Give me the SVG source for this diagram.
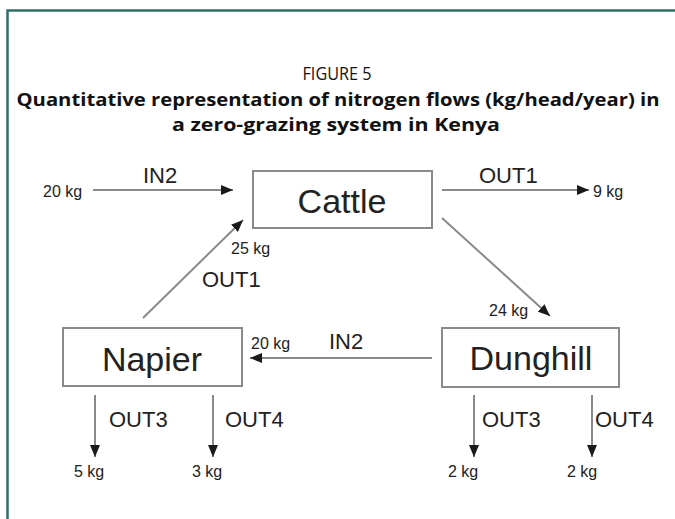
<svg xmlns="http://www.w3.org/2000/svg" width="675" height="519" viewBox="0 0 675 519">
<defs>
<style>
.frame{fill:none;stroke:#2f6e69;stroke-width:2.5}
.title{font-family:"Open Sans","Liberation Sans",sans-serif;fill:#111;text-anchor:middle}
.box{fill:#fff;stroke:#8a8a8a;stroke-width:2}
.name{font-family:"Liberation Sans",Arial,sans-serif;font-size:34px;fill:#222;text-anchor:middle}
.lbl{font-family:"Liberation Sans",Arial,sans-serif;font-size:22px;fill:#222}
.kg{font-family:"Liberation Sans",Arial,sans-serif;font-size:16px;fill:#222}
.conn{fill:none;stroke:#8a8a8a;stroke-width:2;marker-end:url(#ah)}
</style>
<marker id="ah" viewBox="0 0 12 10" refX="12" refY="5" markerWidth="12" markerHeight="10" markerUnits="userSpaceOnUse" orient="auto">
<path d="M0,0 L12,5 L0,10 z" fill="#1a1a1a"/>
</marker>
</defs>
<rect width="675" height="519" fill="#fff"/>
<path class="frame" d="M7.5,519 V10.5 H675"/>
<g id="title">
<text class="title" x="337" y="80" font-size="18" textLength="69" lengthAdjust="spacingAndGlyphs">FIGURE 5</text>
<text class="title" x="338" y="106" font-size="18" font-weight="bold" textLength="643" lengthAdjust="spacingAndGlyphs">Quantitative representation of nitrogen flows (kg/head/year) in</text>
<text class="title" x="336" y="131" font-size="18" font-weight="bold" textLength="328" lengthAdjust="spacingAndGlyphs">a zero-grazing system in Kenya</text>
</g>
<g id="connectors">
<line class="conn" x1="93" y1="190" x2="233" y2="190"/>
<line class="conn" x1="442" y1="190" x2="589" y2="190"/>
<line class="conn" x1="442" y1="218" x2="550" y2="316"/>
<line class="conn" x1="143" y1="318" x2="243" y2="220"/>
<line class="conn" x1="432" y1="358" x2="250" y2="358"/>
<line class="conn" x1="95" y1="395" x2="95" y2="457"/>
<line class="conn" x1="213" y1="395" x2="213" y2="457"/>
<line class="conn" x1="474" y1="395" x2="474" y2="457"/>
<line class="conn" x1="592" y1="395" x2="592" y2="457"/>
</g>
<g id="labels">
<text class="kg" x="43" y="197">20 kg</text>
<text class="lbl" x="143" y="183">IN2</text>
<text class="lbl" x="479" y="183">OUT1</text>
<text class="kg" x="593" y="197">9 kg</text>
<text class="kg" x="231" y="254">25 kg</text>
<text class="lbl" x="202" y="287">OUT1</text>
<text class="kg" x="489" y="316">24 kg</text>
<text class="kg" x="251" y="349">20 kg</text>
<text class="lbl" x="329" y="349">IN2</text>
<text class="lbl" x="109" y="427">OUT3</text>
<text class="lbl" x="225" y="427">OUT4</text>
<text class="lbl" x="482" y="427">OUT3</text>
<text class="lbl" x="595" y="427">OUT4</text>
<text class="kg" x="74" y="477">5 kg</text>
<text class="kg" x="192" y="477">3 kg</text>
<text class="kg" x="448" y="477">2 kg</text>
<text class="kg" x="567" y="477">2 kg</text>
</g>
<g id="cattle">
<rect class="box" x="253" y="171" width="179" height="57"/>
<text class="name" x="342" y="213">Cattle</text>
</g>
<g id="napier">
<rect class="box" x="63" y="328" width="179" height="58"/>
<text class="name" x="152" y="371">Napier</text>
</g>
<g id="dunghill">
<rect class="box" x="442" y="328" width="177" height="59"/>
<text class="name" x="531" y="370">Dunghill</text>
</g>
</svg>
